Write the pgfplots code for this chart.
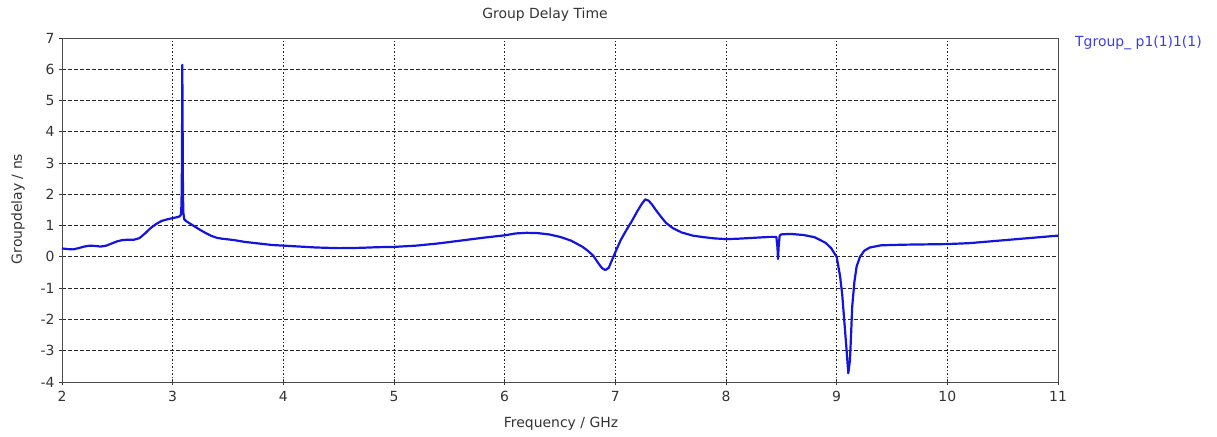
\documentclass[border=0pt]{standalone}
\usepackage{pgfplots}
\pgfplotsset{compat=1.18}
\usepackage{fontspec}
\setmainfont{DejaVu Sans}
\definecolor{curve}{RGB}{20,20,225}
\definecolor{legblue}{RGB}{60,60,230}
\begin{document}
\begin{tikzpicture}[x=1bp,y=1bp]
\useasboundingbox (0,0) rectangle (1217,437);
\begin{axis}[
  at={(62bp,55bp)}, anchor=south west,
  scale only axis, width=996bp, height=344bp,
  xmin=2, xmax=11, ymin=-4, ymax=7,
  xtick={2,3,...,11}, ytick={-4,-3,...,7},
  font=\fontsize{14}{16}\selectfont,
  /pgf/number format/assume math mode=true,
  tick label style={font=\fontsize{14}{16}\selectfont, text=black!80},
  xticklabel style={yshift=-3bp},
  yticklabel style={xshift=-1bp},
  tick align=center, major tick length=6bp,
  tick style={black!80, line width=0.8bp},
  xtick pos=bottom, ytick pos=left,
  axis line style={line width=0.9bp},
  grid=major,
  x grid style={black!85, line width=0.9bp, dash pattern=on 1.5bp off 2bp},
  y grid style={black!85, line width=0.9bp, dash pattern=on 3.5bp off 2.5bp},
  clip=false,
  separate axis lines,
  every outer x axis line/.append style={black!70},
  every outer y axis line/.append style={black!70},
]
\addplot[curve, line width=2.2bp, line join=round] coordinates {
(2.00,0.27) (2.05,0.25) (2.10,0.24) (2.15,0.28) (2.20,0.33) (2.25,0.36)
(2.30,0.35) (2.35,0.33) (2.40,0.36) (2.45,0.43) (2.50,0.50) (2.55,0.54)
(2.60,0.55) (2.65,0.55) (2.70,0.60) (2.75,0.75) (2.80,0.92) (2.85,1.05)
(2.90,1.15) (2.95,1.20) (3.00,1.24) (3.04,1.27) (3.06,1.29) (3.075,1.35)
(3.080,1.7) (3.084,3.0) (3.087,6.14) (3.090,4.1) (3.093,2.0) (3.097,1.4)
(3.105,1.2) (3.12,1.15) (3.15,1.08) (3.20,0.97) (3.25,0.86) (3.30,0.76)
(3.35,0.67) (3.40,0.61) (3.45,0.58) (3.50,0.56) (3.55,0.54) (3.60,0.51)
(3.65,0.48) (3.70,0.46) (3.80,0.42) (3.90,0.38) (4.00,0.36) (4.15,0.33)
(4.30,0.30) (4.50,0.28) (4.70,0.29) (4.85,0.31) (5.00,0.32) (5.20,0.36)
(5.40,0.43) (5.60,0.52) (5.80,0.61) (6.00,0.69) (6.10,0.75) (6.20,0.77)
(6.30,0.76) (6.40,0.72) (6.50,0.64) (6.60,0.52) (6.70,0.33) (6.75,0.20)
(6.80,0.04) (6.85,-0.22) (6.88,-0.36) (6.91,-0.42) (6.94,-0.35) (6.97,-0.10)
(7.00,0.15) (7.05,0.55) (7.10,0.86) (7.15,1.15) (7.20,1.47) (7.24,1.70)
(7.27,1.84) (7.30,1.80) (7.33,1.68) (7.37,1.48) (7.42,1.25) (7.46,1.08)
(7.52,0.92) (7.60,0.78) (7.70,0.68) (7.80,0.63) (7.90,0.59) (8.00,0.57)
(8.10,0.58) (8.20,0.60) (8.30,0.62) (8.40,0.64) (8.455,0.64) (8.465,0.30)
(8.47,-0.07) (8.475,0.30) (8.485,0.68) (8.50,0.72) (8.55,0.73) (8.60,0.73)
(8.70,0.70) (8.80,0.63) (8.85,0.54) (8.90,0.45) (8.95,0.28) (9.00,0.00)
(9.03,-0.6) (9.05,-1.2) (9.07,-2.1) (9.09,-3.0) (9.105,-3.72) (9.12,-3.3)
(9.13,-2.5) (9.14,-1.6) (9.16,-0.8) (9.18,-0.31) (9.21,0.0) (9.25,0.2)
(9.30,0.30) (9.40,0.37) (9.60,0.39) (9.80,0.40) (10.00,0.41) (10.20,0.44)
(10.40,0.50) (10.60,0.56) (10.80,0.62) (11.00,0.68)
};
\end{axis}
\node[font=\fontsize{14}{16}\selectfont, text=black!80] at (545,422) {Group Delay Time};
\node[font=\fontsize{14}{16}\selectfont, text=black!80] at (561,13) {Frequency / GHz};
\node[font=\fontsize{14}{16}\selectfont, text=black!80, rotate=90] at (18,228) {Groupdelay / ns};
\node[font=\fontsize{14}{16}\selectfont, text=legblue, anchor=west, inner sep=0pt] at (1075,394) {Tgroup\_ p1(1)1(1)};
\end{tikzpicture}
\end{document}
